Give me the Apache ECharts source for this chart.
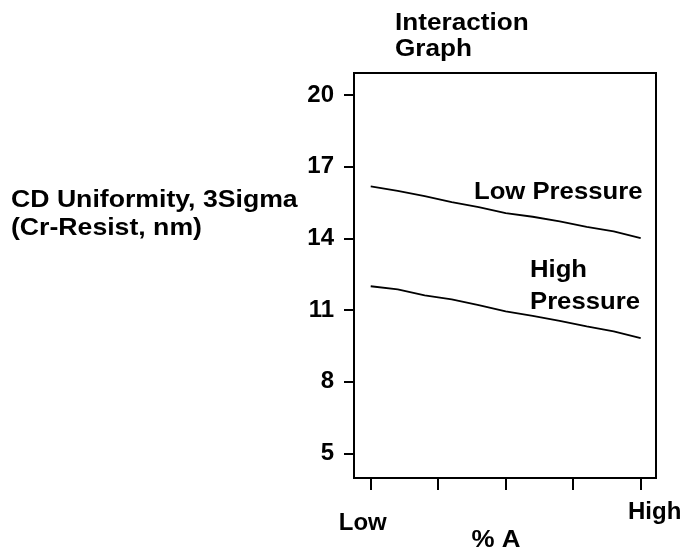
<!DOCTYPE html>
<html>
<head>
<meta charset="utf-8">
<script src="https://cdn.jsdelivr.net/npm/echarts@6/dist/echarts.min.js"></script>
<style>html,body{margin:0;padding:0;background:#fff;}#c{width:687px;height:554px;}</style>
</head>
<body>
<div id="c"></div>
<script>
// % A positions (0 = Low, 1 = High)
const xPos = [0, 0.1, 0.2, 0.3, 0.4, 0.5, 0.6, 0.7, 0.8, 0.9, 1.0];
const lowPressure  = [16.18, 15.99, 15.77, 15.52, 15.31, 15.06, 14.91, 14.72, 14.49, 14.30, 14.02];
const highPressure = [12.00, 11.87, 11.62, 11.45, 11.21, 10.95, 10.76, 10.55, 10.32, 10.11, 9.83];
const yTicks = [5, 8, 11, 14, 17, 20];
const xTicks = [0, 0.25, 0.5, 0.75, 1];
const xTickLabels = ['Low', 'High'];
const seriesNames = ['Low Pressure', 'High Pressure'];

const FONT = '"Liberation Sans", Arial, sans-serif';
const chart = echarts.init(document.getElementById('c'), null, {renderer: 'canvas'});

function txt(text, x, y, size, sx) {
  return {type: 'text', x: x, y: y, scaleX: sx, scaleY: 1,
    style: {text: text, fill: '#000', font: 'bold ' + size + 'px ' + FONT, align: 'left', verticalAlign: 'middle'}};
}

chart.setOption({
  animation: false,
  backgroundColor: '#fff',
  grid: {left: 354, top: 73, right: 31, bottom: 76, show: true, borderColor: '#000', borderWidth: 2, containLabel: false},
  xAxis: {
    type: 'value', min: -0.0619, max: 1.0567,
    splitLine: {show: false},
    axisLine: {show: true, onZero: false, lineStyle: {color: '#000', width: 2}},
    axisTick: {show: true, customValues: xTicks, length: 12, inside: false, lineStyle: {color: '#000', width: 2}},
    axisLabel: {
      customValues: [0, 1], margin: 22,
      formatter: v => v === 0 ? '{lo|' + xTickLabels[0] + '}' : '{hi|' + xTickLabels[1] + '}',
      rich: {
        lo: {fontFamily: FONT, fontWeight: 'bold', fontSize: 24, color: '#000', padding: [11, 16, 0, 0]},
        hi: {fontFamily: FONT, fontWeight: 'bold', fontSize: 24, color: '#000', padding: [0, 0, 0, 28]}
      }
    }
  },
  yAxis: {
    type: 'value', min: 3.97, max: 20.93,
    splitLine: {show: false},
    axisLine: {show: true, onZero: false, lineStyle: {color: '#000', width: 2}},
    axisTick: {show: true, customValues: yTicks, length: 10, lineStyle: {color: '#000', width: 2}},
    axisLabel: {customValues: yTicks, margin: 20, color: '#000', fontFamily: FONT, fontWeight: 'bold', fontSize: 24}
  },
  series: [
    {name: seriesNames[0], type: 'line', data: xPos.map((x, i) => [x, lowPressure[i]]),
     showSymbol: false, symbol: 'none', lineStyle: {color: '#000', width: 1.8}},
    {name: seriesNames[1], type: 'line', data: xPos.map((x, i) => [x, highPressure[i]]),
     showSymbol: false, symbol: 'none', lineStyle: {color: '#000', width: 1.8}}
  ],
  graphic: [
    txt('Interaction', 395, 23, 24, 1.09),
    txt('Graph', 395, 49.5, 24, 1.09),
    txt('CD Uniformity, 3Sigma', 11, 200, 24, 1.11),
    txt('(Cr-Resist, nm)', 11, 228.5, 24, 1.11),
    txt('Low Pressure', 474, 192, 24, 1.07),
    txt('High', 530, 270, 24, 1.07),
    txt('Pressure', 530, 302, 24, 1.07),
    {type: 'text', x: 496, y: 540, scaleX: 1.08, style: {text: '% A', fill: '#000', font: 'bold 24px ' + FONT, align: 'center', verticalAlign: 'middle'}}
  ]
});
</script>
</body>
</html>
